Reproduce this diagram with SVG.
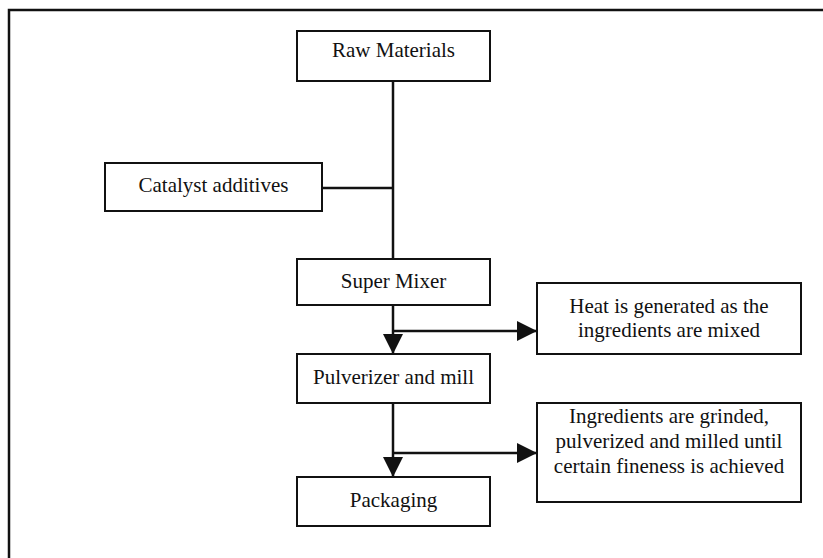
<svg xmlns="http://www.w3.org/2000/svg" width="823" height="558" viewBox="0 0 823 558">
  <style>
    .box { fill: #ffffff; stroke: #111111; stroke-width: 2; }
    .lbl { font-family: "Liberation Serif", "Times New Roman", serif; font-size: 21px; fill: #111111; text-anchor: middle; }
    .wire { fill: none; stroke: #111111; stroke-width: 2.5; }
    .frame { fill: none; stroke: #111111; stroke-width: 2.5; }
  </style>
  <defs>
    <marker id="head" viewBox="0 0 10 10" refX="10" refY="5" markerUnits="userSpaceOnUse" markerWidth="21" markerHeight="20" orient="auto">
      <path d="M0,0 L10,5 L0,10 Z" fill="#111111"/>
    </marker>
  </defs>

  <rect x="0" y="0" width="823" height="558" fill="#ffffff"/>

  <!-- outer frame: top rule and left rule -->
  <path class="frame" d="M9,558 L9,10 L823,10"/>

  <!-- connectors -->
  <g id="connectors">
    <path class="wire" d="M393,81 L393,259"/>
    <path class="wire" d="M322,188 L393,188"/>
    <path class="wire" d="M393,305 L393,354" marker-end="url(#head)"/>
    <path class="wire" d="M393,331 L537,331" marker-end="url(#head)"/>
    <path class="wire" d="M393,403 L393,477" marker-end="url(#head)"/>
    <path class="wire" d="M393,453 L537,453" marker-end="url(#head)"/>
  </g>

  <g id="raw-materials">
    <rect class="box" x="297" y="31" width="193" height="50"/>
    <text class="lbl" x="393.5" y="57">Raw Materials</text>
  </g>

  <g id="catalyst-additives">
    <rect class="box" x="105" y="163" width="217" height="48"/>
    <text class="lbl" x="213.5" y="192">Catalyst additives</text>
  </g>

  <g id="super-mixer">
    <rect class="box" x="297" y="259" width="193" height="46"/>
    <text class="lbl" x="393.5" y="288">Super Mixer</text>
  </g>

  <g id="heat-note">
    <rect class="box" x="537" y="283" width="264" height="71"/>
    <text class="lbl" x="669" y="313">Heat is generated as the</text>
    <text class="lbl" x="669" y="337">ingredients are mixed</text>
  </g>

  <g id="pulverizer">
    <rect class="box" x="297" y="354" width="193" height="49"/>
    <text class="lbl" x="393.5" y="384">Pulverizer and mill</text>
  </g>

  <g id="grind-note">
    <rect class="box" x="537" y="403" width="264" height="99"/>
    <text class="lbl" x="669" y="423">Ingredients are grinded,</text>
    <text class="lbl" x="669" y="448">pulverized and milled until</text>
    <text class="lbl" x="669" y="473">certain fineness is achieved</text>
  </g>

  <g id="packaging">
    <rect class="box" x="297" y="477" width="193" height="49"/>
    <text class="lbl" x="393.5" y="507">Packaging</text>
  </g>
</svg>
